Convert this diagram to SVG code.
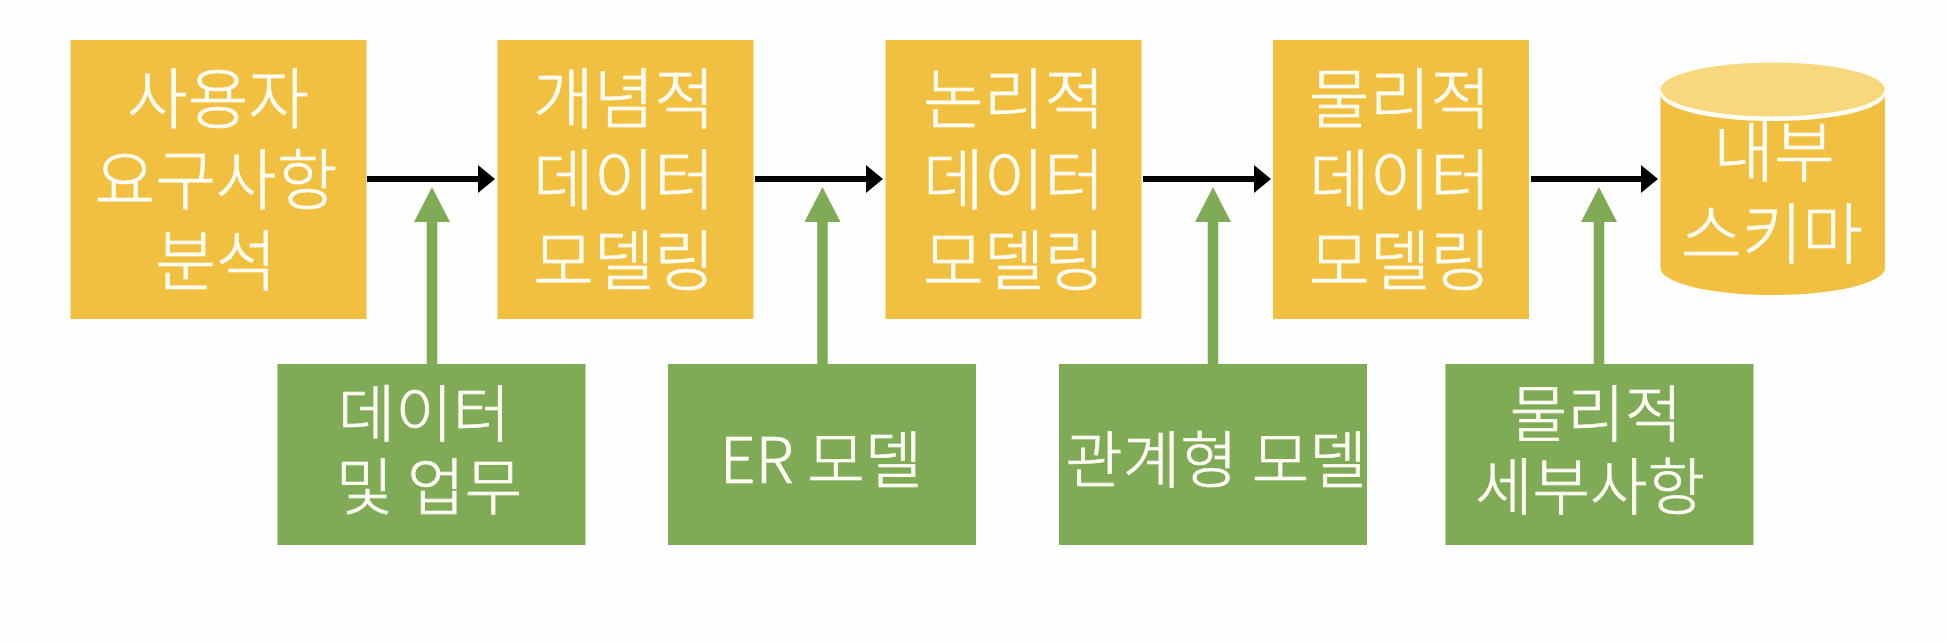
<svg xmlns="http://www.w3.org/2000/svg" width="1948" height="642" viewBox="0 0 1948 642">
<defs>
<style>
.o{fill:#f2c040}
.g{fill:#7fab57}
text{fill:#fffdf5;stroke:#fffdf5;stroke-width:.7px;font-family:"Noto Sans CJK KR","Noto Sans",sans-serif;font-weight:300;text-anchor:middle}
.t1{font-size:66px}
.t2{font-size:62.500px}
.bk{stroke:#000;stroke-width:6;fill:none}
.gr{stroke:#7fab57;stroke-width:10.500;fill:none}
</style>
<marker id="bh" markerUnits="userSpaceOnUse" markerWidth="17" markerHeight="28" refX="0" refY="14" orient="auto"><path d="M0 0L17 14L0 28Z" fill="#000"/></marker>
<marker id="gh" markerUnits="userSpaceOnUse" markerWidth="35" markerHeight="36" refX="0" refY="18" orient="auto"><path d="M0 0L35 18L0 36Z" fill="#7fab57"/></marker>
</defs>
<rect width="1948" height="642" fill="#fefefe"/>
<g id="connectors">
<path class="bk" marker-end="url(#bh)" d="M367 179H478"/>
<path class="bk" marker-end="url(#bh)" d="M755 179H866"/>
<path class="bk" marker-end="url(#bh)" d="M1143 179H1254"/>
<path class="bk" marker-end="url(#bh)" d="M1531 179H1641"/>
<path class="gr" marker-end="url(#gh)" d="M432 364V222"/>
<path class="gr" marker-end="url(#gh)" d="M822.500 364V222"/>
<path class="gr" marker-end="url(#gh)" d="M1213 364V222"/>
<path class="gr" marker-end="url(#gh)" d="M1599 364V222"/>
</g>
<g id="n1"><rect class="o" x="70.500" y="40" width="296" height="279"/><text class="t1"><tspan x="218" y="123">사용자</tspan><tspan x="216" y="204">요구사항</tspan><tspan x="216" y="285">분석</tspan></text></g>
<g id="n2"><rect class="o" x="497.500" y="40" width="256" height="279"/><text class="t1"><tspan x="624" y="123">개념적</tspan><tspan x="624" y="204">데이터</tspan><tspan x="624" y="285">모델링</tspan></text></g>
<g id="n3"><rect class="o" x="885.500" y="40" width="256" height="279"/><text class="t1"><tspan x="1014" y="123">논리적</tspan><tspan x="1014" y="204">데이터</tspan><tspan x="1014" y="285">모델링</tspan></text></g>
<g id="n4"><rect class="o" x="1273" y="40" width="256" height="279"/><text class="t1"><tspan x="1400" y="123">물리적</tspan><tspan x="1400" y="204">데이터</tspan><tspan x="1400" y="285">모델링</tspan></text></g>
<g id="n5"><path class="o" d="M1660.500 94V268A112 27 0 0 0 1885 268V94A112 27 0 0 1 1660.500 94Z"/><ellipse cx="1772.700" cy="89.500" rx="112.200" ry="27" fill="#f7d87c"/><path d="M1660.500 91A112 27 0 0 0 1885 91" fill="none" stroke="#fffdf5" stroke-width="2.500"/><text class="t1"><tspan x="1774" y="176">내부</tspan><tspan x="1772" y="258">스키마</tspan></text></g>
<g id="n6"><rect class="g" x="277.500" y="364" width="308" height="181"/><text class="t2"><tspan x="424" y="437">데이터</tspan><tspan x="429" y="510">및 업무</tspan></text></g>
<g id="n7"><rect class="g" x="668" y="364" width="308" height="181"/><text class="t2"><tspan x="821" y="483">ER 모델</tspan></text></g>
<g id="n8"><rect class="g" x="1059" y="364" width="308" height="181"/><text class="t2"><tspan x="1216" y="483">관계형 모델</tspan></text></g>
<g id="n9"><rect class="g" x="1445.500" y="364" width="308" height="181"/><text class="t2"><tspan x="1596" y="437">물리적</tspan><tspan x="1590" y="510">세부사항</tspan></text></g>
</svg>
